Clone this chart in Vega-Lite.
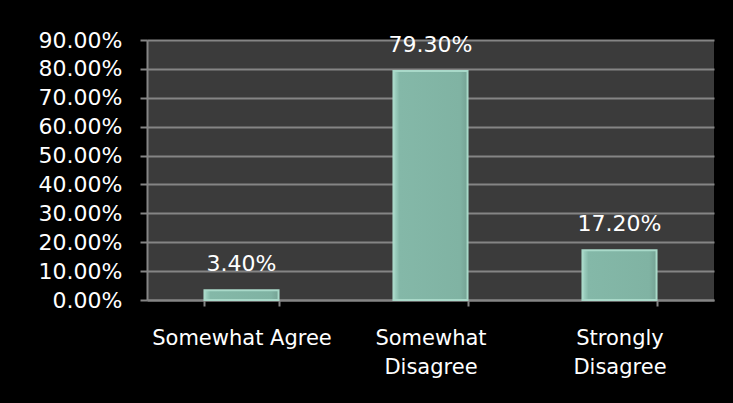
{
  "$schema": "https://vega.github.io/schema/vega-lite/v6.json",
  "autosize": {"type": "none"},
  "width": 567,
  "height": 260,
  "padding": {"left": 147, "top": 40, "right": 19, "bottom": 103},
  "background": "#000000",
  "config": {
    "view": {"fill": "#3b3b3b", "stroke": null},
    "font": "DejaVu Sans"
  },
  "data": {
    "values": [
      {"category": "Somewhat Agree", "value": 0.034},
      {"category": "Somewhat Disagree", "value": 0.793},
      {"category": "Strongly Disagree", "value": 0.172}
    ]
  },
  "encoding": {
    "x": {
      "field": "category",
      "type": "nominal",
      "sort": null,
      "scale": {"paddingInner": 0.608, "paddingOuter": 0.304},
      "axis": {
        "title": null,
        "labelAngle": 0,
        "labelColor": "#ffffff",
        "labelFont": "DejaVu Sans",
        "labelFontSize": 21,
        "labelPadding": 21,
        "labelBaseline": "top",
        "labelLineHeight": 29,
        "labelExpr": "datum.label == 'Somewhat Agree' ? datum.label : split(datum.label, ' ')",
        "domainColor": "#858585",
        "domainWidth": 2,
        "tickColor": "#858585",
        "tickWidth": 2,
        "tickSize": 6,
        "tickBand": "extent",
        "grid": false
      }
    },
    "y": {
      "field": "value",
      "type": "quantitative",
      "scale": {"domain": [0, 0.9], "nice": false},
      "axis": {
        "title": null,
        "format": ".2%",
        "values": [0, 0.1, 0.2, 0.3, 0.4, 0.5, 0.6, 0.7, 0.8, 0.9],
        "labelColor": "#ffffff",
        "labelFont": "DejaVu Sans",
        "labelFontSize": 22,
        "labelPadding": 18,
        "domainColor": "#858585",
        "domainWidth": 2,
        "tickColor": "#858585",
        "tickWidth": 2,
        "tickSize": 7,
        "grid": true,
        "gridColor": "#858585",
        "gridWidth": 2
      }
    }
  },
  "layer": [
    {
      "mark": {
        "type": "bar",
        "stroke": "#a9d9c9",
        "strokeWidth": 2,
        "color": {
          "gradient": "linear",
          "x1": 0, "x2": 1, "y1": 0, "y2": 0,
          "stops": [
            {"offset": 0, "color": "#a6d8c8"},
            {"offset": 0.08, "color": "#84b8a8"},
            {"offset": 0.9, "color": "#80b3a3"},
            {"offset": 1, "color": "#76a395"}
          ]
        }
      }
    },
    {
      "mark": {
        "type": "text",
        "color": "#ffffff",
        "font": "DejaVu Sans",
        "fontSize": 22,
        "baseline": "alphabetic",
        "dy": -19
      },
      "encoding": {
        "text": {"field": "value", "type": "quantitative", "format": ".2%"}
      }
    }
  ]
}
